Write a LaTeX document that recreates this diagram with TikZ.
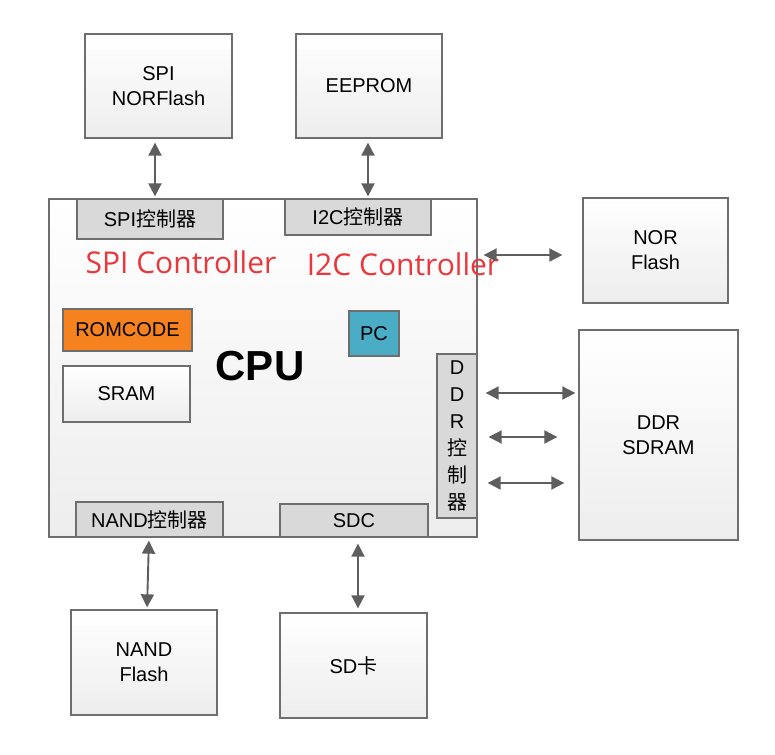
\documentclass[tikz,border=0pt]{standalone}
\usepackage{fontspec}
\setmainfont{Liberation Sans}
\newfontfamily\cjk{Noto Sans CJK SC}
\newfontfamily\notefont{Open Sans}
\usetikzlibrary{arrows.meta}

\definecolor{boxline}{HTML}{6E6E6E}
\definecolor{ctlfill}{HTML}{D9D9D9}
\definecolor{romorange}{HTML}{F5821F}
\definecolor{pcblue}{HTML}{4BACC6}
\definecolor{notered}{HTML}{E8383D}
\definecolor{busgray}{HTML}{5E5E5E}

\begin{document}
\begin{tikzpicture}[x=1pt, y=-1pt,
  every node/.style={font=\fontsize{20}{25}\selectfont, inner sep=0pt},
  unit/.style={draw=boxline, line width=1.3pt, top color=white, bottom color=black!7, align=center},
  ctl/.style={draw=boxline, line width=1.3pt, fill=ctlfill},
  bus/.style={{Triangle[width=13pt,length=13pt]}-{Triangle[width=13pt,length=13pt]}, draw=busgray, line width=1.9pt}]

\path[use as bounding box, fill=white] (0,0) rectangle (775,754);

% CPU and its blocks
\node[unit, minimum width=428pt, minimum height=338pt] (cpu) at (263,368) {};
\node[font=\bfseries\fontsize{42}{48}\selectfont] (cputext) at (260,366) {CPU};
\node[ctl, minimum width=146pt, minimum height=40pt] (spictl) at (150,219) {SPI{\cjk 控制器}};
\node[ctl, minimum width=146pt, minimum height=36pt] (i2cctl) at (358,217) {I2C{\cjk 控制器}};
\node[ctl, minimum width=147pt, minimum height=35pt] (nandctl) at (149.5,519.5) {NAND{\cjk 控制器}};
\node[ctl, minimum width=148pt, minimum height=33pt] (sdc) at (354,520.5) {SDC};
\node[ctl, minimum width=40pt, minimum height=164pt, align=center, font=\fontsize{20}{27}\selectfont] (ddrctl) at (457,436)
    {D\\D\\R\\{\cjk 控}\\{\cjk 制}\\{\cjk 器}};
\node[draw=boxline, line width=1.3pt, fill=romorange, minimum width=129pt, minimum height=42pt] (romcode) at (127.5,330) {ROMCODE};
\node[unit, minimum width=127pt, minimum height=56pt] (sram) at (126.5,394) {SRAM};
\node[draw=boxline, line width=1.3pt, fill=pcblue, minimum width=50pt, minimum height=45pt] (pc) at (374,333.5) {PC};

% Red notes
\node[font=\notefont\fontsize{30}{36}\selectfont, text=notered] (spinote) at (181,262) {SPI Controller};
\node[font=\notefont\fontsize{30}{36}\selectfont, text=notered] (i2cnote) at (403,264) {I2C Controller};

% Memories round the CPU
\node[unit, minimum width=147pt, minimum height=104pt] (spinor) at (158.5,86) {SPI\\NORFlash};
\node[unit, minimum width=146pt, minimum height=104pt] (eeprom) at (369,86) {EEPROM};
\node[unit, minimum width=145pt, minimum height=105pt] (norflash) at (655.5,250.5) {NOR\\Flash};
\node[unit, minimum width=159pt, minimum height=210pt] (ddr) at (658.5,435) {DDR\\SDRAM};
\node[unit, minimum width=146pt, minimum height=105pt] (nand) at (144,662.5) {NAND\\Flash};
\node[unit, minimum width=147pt, minimum height=105pt] (sdcard) at (353.5,665.5) {SD{\cjk 卡}};

% Buses
\draw[bus, shorten <=4pt, shorten >=2pt] ([xshift=-3.5pt]spinor.south) -- ([xshift=-3.5pt]spinor.south |- spictl.north);
\draw[bus, shorten <=4pt, shorten >=2pt] ([xshift=-1pt]eeprom.south) -- ([xshift=-1pt]eeprom.south |- i2cctl.north);
\coordinate (norbus) at (0,255);
\draw[bus, shorten <=6pt, shorten >=20pt] (cpu.east |- norbus) -- (norflash.west |- norbus);
\foreach \y/\lgap/\rgap in {393/8pt/3pt, 437/11pt/21pt, 483/10pt/14pt}
    \draw[bus, shorten <=\lgap, shorten >=\rgap] (ddrctl.east |- 0,\y) -- (ddr.west |- 0,\y);
\draw[bus, shorten <=3pt, shorten >=2pt] ([xshift=-0.5pt]nandctl.south) -- ([xshift=3pt]nand.north);
\draw[bus, shorten <=6pt, shorten >=4pt] ([xshift=4pt]sdc.south) -- ([xshift=4pt]sdc.south |- sdcard.north);

\end{tikzpicture}
\end{document}
